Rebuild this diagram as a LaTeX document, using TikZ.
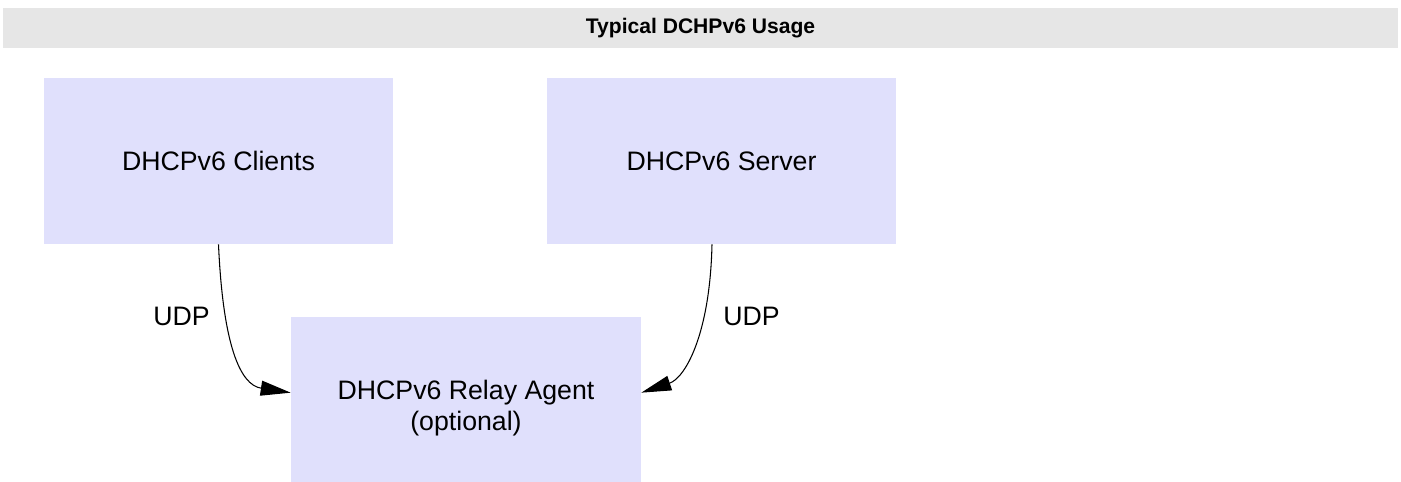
\documentclass[tikz,border=0pt]{standalone}
\usepackage{fontspec}
\setmainfont{Liberation Sans}
\usetikzlibrary{arrows.meta,positioning}
\definecolor{boxfill}{HTML}{E0E0FC}
\definecolor{barfill}{HTML}{E6E6E6}

\begin{document}
\begin{tikzpicture}[x=0.02cm,y=-0.02cm,>={Triangle[length=0.6cm,width=0.3cm]},
  every node/.style={font=\fontsize{15.2}{17.6}\selectfont},
  box/.style={fill=boxfill,inner sep=0pt,align=center,minimum width=6.98cm,minimum height=3.32cm}]
\useasboundingbox (0,0) rectangle (1401,481);
\node[fill=barfill,minimum width=27.9cm,minimum height=0.8cm,inner sep=0pt,font=\bfseries\fontsize{12}{14}\selectfont] (title) at (700.5,28) {Typical DCHPv6 Usage};
\node[box] (clients) at (218.5,161) {DHCPv6 Clients};
\node[box] (server) at (721.5,161) {DHCPv6 Server};
\node[box,minimum width=7cm,minimum height=3.64cm] (relay) at (466,408) {DHCPv6 Relay Agent\\(optional)};
\draw[->,semithick] (clients.south) .. controls (223,345) and (240,385) .. (relay.175);
\draw[->,semithick] ([xshift=-0.19cm]server.south) .. controls (710,335) and (685,378) .. (relay.5);
\node (udpl) at (181.5,316) {UDP};
\node (udpr) at (751.5,316) {UDP};
\end{tikzpicture}
\end{document}
